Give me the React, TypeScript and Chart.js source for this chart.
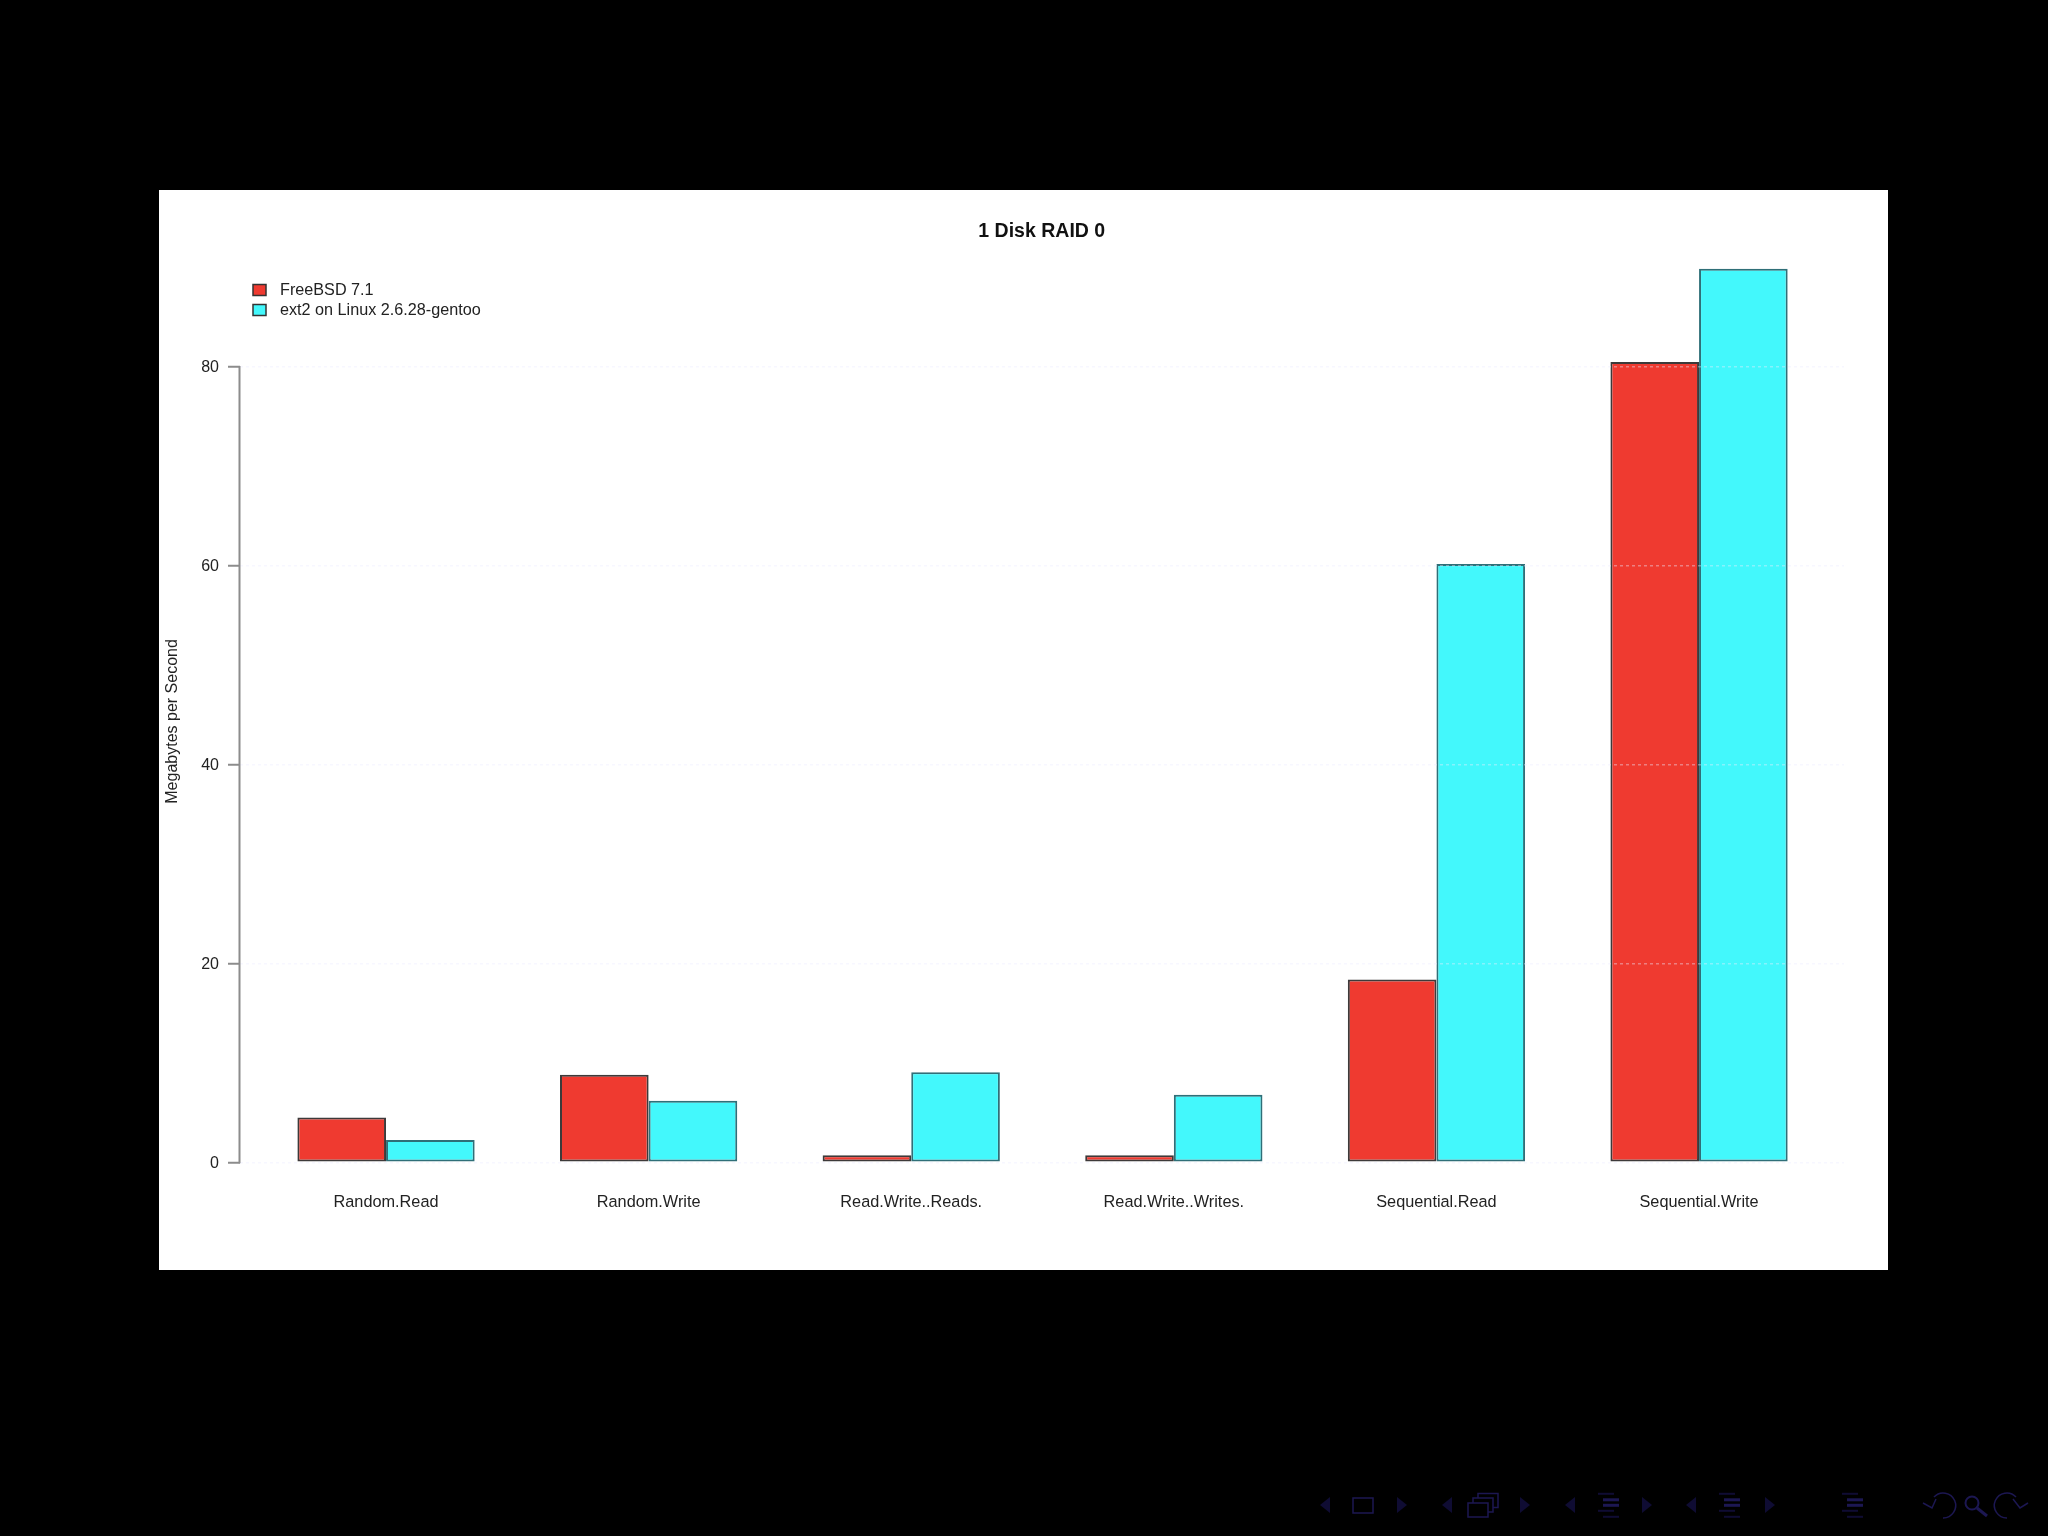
import { useEffect, useRef } from "react"
import { Chart, registerables } from "chart.js"

Chart.register(...registerables)

const categories = [
  "Random.Read",
  "Random.Write",
  "Read.Write..Reads.",
  "Read.Write..Writes.",
  "Sequential.Read",
  "Sequential.Write",
]
const seriesNames = ["FreeBSD 7.1", "ext2 on Linux 2.6.28-gentoo"]
const freebsdValues = [4.5, 8.8, 0.7, 0.7, 18.4, 80.5]
const ext2Values = [2.25, 6.2, 9.05, 6.8, 60.2, 89.9]

const RED = "#ef3a30"
const CYAN = "#43f8fc"
const FONT = "'Liberation Sans', Arial, sans-serif"
const TEXT = "#222222"
const AXIS = "#8c8c8c"
const NAV = "#1c1752"
const NAV_DIM = "#0f0c33"

// R draws the axis line only between the first and last tick
const axisLine = {
  id: "axisLine",
  afterDraw(chart: any) {
    const { ctx, scales } = chart
    const x = chart.chartArea.left
    ctx.save()
    ctx.strokeStyle = AXIS
    ctx.lineWidth = 2
    ctx.beginPath()
    ctx.moveTo(x, scales.y.getPixelForValue(0) + 1)
    ctx.lineTo(x, scales.y.getPixelForValue(80) - 1)
    ctx.stroke()
    ctx.restore()
  },
}

// the built in legend can't do the gap between swatch and text
const plotLegend = {
  id: "plotLegend",
  afterDraw(chart: any) {
    const { ctx } = chart
    const colors = [RED, CYAN]
    ctx.save()
    ctx.font = `16.2px ${FONT}`
    ctx.textBaseline = "middle"
    seriesNames.forEach((name, i) => {
      const y = 100.5 + i * 20
      ctx.fillStyle = colors[i]
      ctx.fillRect(94, y - 6, 13, 11)
      ctx.strokeStyle = "#333333"
      ctx.lineWidth = 1.5
      ctx.strokeRect(94, y - 6, 13, 11)
      ctx.fillStyle = TEXT
      ctx.fillText(name, 121, y)
    })
    ctx.restore()
  },
}

function NavSymbols() {
  const arrow = (x: number, dir: number) => (
    <polygon
      key={x}
      points={`${x + dir * 5},1497 ${x + dir * 5},1513 ${x - dir * 5},1505`}
      fill={NAV_DIM}
    />
  )
  const lines = (x: number) =>
    [1494, 1499.5, 1505, 1511, 1517].map((y, i) => (
      <rect
        key={x + y}
        x={i === 0 || i === 3 ? x : x + 5}
        y={y - 1.2}
        width={16}
        height={i === 1 || i === 2 ? 3 : 2}
        fill={i === 1 || i === 2 ? NAV : NAV_DIM}
      />
    ))
  return (
    <svg
      width={2048}
      height={1536}
      style={{ position: "absolute", left: 0, top: 0 }}
      fill="none"
    >
      {arrow(1325, 1)}
      <rect x={1353} y={1498} width={20} height={15} stroke={NAV} strokeWidth={1.5} />
      {arrow(1402, -1)}
      {arrow(1447, 1)}
      <rect x={1478} y={1493.5} width={20} height={14} stroke={NAV} strokeWidth={1.5} fill="#000" />
      <rect x={1473} y={1498} width={20} height={14} stroke={NAV} strokeWidth={1.5} fill="#000" />
      <rect x={1468} y={1503} width={20} height={14} stroke={NAV} strokeWidth={1.5} fill="#000" />
      {arrow(1525, -1)}
      {arrow(1570, 1)}
      {lines(1598)}
      {arrow(1647, -1)}
      {arrow(1691, 1)}
      {lines(1719)}
      {arrow(1770, -1)}
      {lines(1842)}
      <path d="M1934 1497 A 12.5 12.5 0 1 1 1943 1518 M1923 1503 L1932 1508 L1936 1499" stroke={NAV} strokeWidth={1.5} />
      <circle cx={1972} cy={1503} r={6.5} stroke={NAV} strokeWidth={2} />
      <path d="M1977 1508 L1987 1516" stroke={NAV} strokeWidth={3} />
      <path d="M2016 1497 A 12.5 12.5 0 1 0 2007 1518 M2028 1503 L2020 1508 L2013 1499" stroke={NAV} strokeWidth={1.5} />
    </svg>
  )
}

export default function App() {
  const chartRef = useRef<HTMLCanvasElement>(null)
  const chartInstance = useRef<Chart | null>(null)

  useEffect(() => {
    if (!chartRef.current) return
    const ctx = chartRef.current.getContext("2d")
    if (!ctx) return

    chartInstance.current = new Chart(ctx, {
      type: "bar",
      data: {
        datasets: [
          {
            label: seriesNames[0],
            data: freebsdValues.map((y, x) => ({ x, y })),
            backgroundColor: RED,
            borderColor: "#3d3a3a",
            borderWidth: 2,
            borderSkipped: false,
            clip: false,
          },
          {
            label: seriesNames[1],
            data: ext2Values.map((y, x) => ({ x, y })),
            backgroundColor: CYAN,
            borderColor: "#2f6f78",
            borderWidth: 2,
            borderSkipped: false,
            clip: false,
          },
        ],
      } as any,
      plugins: [axisLine, plotLegend],
      options: {
        responsive: false,
        animation: false,
        devicePixelRatio: 1,
        layout: { autoPadding: false, padding: { right: 44 } },
        datasets: { bar: { barPercentage: 1, categoryPercentage: 0.675 } },
        plugins: {
          legend: { display: false },
          tooltip: { enabled: false },
          title: {
            display: true,
            text: "1 Disk RAID 0",
            color: "#111111",
            fullSize: false,
            font: { family: FONT, size: 19.5, weight: "bold" },
            padding: { top: 29.5, bottom: 37.7 },
          },
        },
        scales: {
          x: {
            type: "linear",
            offset: false,
            // leaves the same margin R has left and right of the bars
            min: -0.558,
            max: 5.552,
            grid: { display: false },
            border: { display: false },
            afterFit: (scale: any) => {
              scale.height = 107.7
            },
            ticks: {
              stepSize: 1,
              includeBounds: false,
              autoSkip: false,
              maxRotation: 0,
              padding: 22.5,
              color: TEXT,
              font: { family: FONT, size: 16.3 },
              callback: (value: any) => categories[value] ?? "",
            },
          },
          y: {
            min: 0,
            max: 88.7,
            afterFit: (scale: any) => {
              scale.width = 80.5
            },
            grid: {
              z: 1,
              color: "rgba(236,236,255,0.4)",
              lineWidth: 1.5,
              tickColor: AXIS,
              tickWidth: 2,
              tickLength: 11.5,
              tickBorderDash: [],
            },
            border: { display: false, dash: [3, 3] },
            ticks: {
              stepSize: 20,
              includeBounds: false,
              padding: 9,
              labelOffset: 1,
              color: TEXT,
              font: { family: FONT, size: 16 },
            },
            title: {
              display: true,
              text: "Megabytes per Second",
              color: TEXT,
              font: { family: FONT, size: 16 },
              padding: { top: 4, bottom: 0 },
            },
          },
        },
      },
    } as any)

    return () => {
      if (chartInstance.current) {
        chartInstance.current.destroy()
      }
    }
  }, [])

  return (
    <div style={{ position: "fixed", left: 0, top: 0, width: 2048, height: 1536, background: "#000", overflow: "hidden" }}>
      <canvas
        ref={chartRef}
        width={1729}
        height={1080}
        style={{ position: "absolute", left: 159, top: 190, width: 1729, height: 1080, background: "#fff" }}
      />
      <NavSymbols />
    </div>
  )
}
